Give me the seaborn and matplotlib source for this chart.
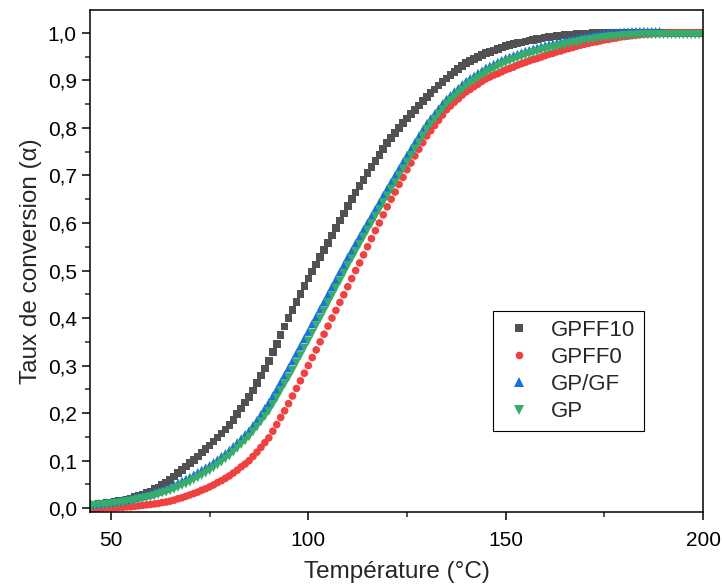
import pandas as pd
import matplotlib
matplotlib.use("Agg")
import matplotlib.pyplot as plt
import seaborn as sns
from matplotlib.ticker import MultipleLocator, FuncFormatter

sns.set_style("ticks")
plt.rcParams["font.family"] = ["Liberation Sans", "DejaVu Sans"]

# === Data (1 °C steps) ===
temperature = list(range(45, 201))

gpff10 = [
    0.007, 0.008, 0.009, 0.010, 0.011, 0.012, 0.013, 0.015, 0.016, 0.018,
    0.020, 0.023, 0.026, 0.029, 0.032, 0.035, 0.040, 0.044, 0.049, 0.054,
    0.060, 0.067, 0.074, 0.081, 0.088, 0.095, 0.102, 0.109, 0.117, 0.124,
    0.132, 0.140, 0.149, 0.157, 0.166, 0.175, 0.186, 0.198, 0.210, 0.222,
    0.234, 0.248, 0.263, 0.279, 0.294, 0.310, 0.328, 0.346, 0.364, 0.382,
    0.400, 0.417, 0.434, 0.450, 0.467, 0.483, 0.498, 0.513, 0.528, 0.543,
    0.558, 0.574, 0.589, 0.605, 0.620, 0.636, 0.650, 0.664, 0.678, 0.691,
    0.705, 0.718, 0.731, 0.743, 0.756, 0.768, 0.779, 0.789, 0.800, 0.810,
    0.820, 0.829, 0.838, 0.847, 0.856, 0.865, 0.873, 0.881, 0.889, 0.897,
    0.904, 0.911, 0.918, 0.924, 0.930, 0.936, 0.941, 0.945, 0.949, 0.953,
    0.957, 0.960, 0.963, 0.966, 0.969, 0.972, 0.974, 0.976, 0.978, 0.980,
    0.982, 0.984, 0.985, 0.987, 0.988, 0.990, 0.991, 0.992, 0.993, 0.994,
    0.995, 0.996, 0.996, 0.997, 0.997, 0.998, 0.998, 0.999, 0.999, 1.000,
    1.000, 1.000, 1.000, 1.000, 1.000, 1.000, 1.000, 1.000, 1.000, 1.000,
    1.000, 1.000, 1.000, 1.000, 1.000, 1.000, 1.000, 1.000, 1.000, 1.000,
    1.000, 1.000, 1.000, 1.000, 1.000, 1.000,
]

gpff0 = [
    0.000, 0.000, 0.000, 0.001, 0.001, 0.001, 0.001, 0.002, 0.002, 0.003,
    0.003, 0.004, 0.005, 0.006, 0.007, 0.008, 0.009, 0.010, 0.012, 0.013,
    0.015, 0.017, 0.020, 0.022, 0.025, 0.028, 0.031, 0.034, 0.038, 0.041,
    0.045, 0.049, 0.054, 0.058, 0.063, 0.068, 0.074, 0.080, 0.087, 0.093,
    0.100, 0.109, 0.118, 0.128, 0.138, 0.148, 0.162, 0.176, 0.191, 0.205,
    0.220, 0.236, 0.252, 0.268, 0.284, 0.300, 0.317, 0.333, 0.350, 0.366,
    0.383, 0.400, 0.416, 0.433, 0.449, 0.466, 0.483, 0.500, 0.516, 0.533,
    0.550, 0.567, 0.584, 0.600, 0.617, 0.634, 0.650, 0.665, 0.681, 0.696,
    0.712, 0.726, 0.741, 0.755, 0.769, 0.783, 0.794, 0.805, 0.816, 0.827,
    0.838, 0.846, 0.854, 0.861, 0.869, 0.876, 0.881, 0.887, 0.892, 0.898,
    0.903, 0.907, 0.911, 0.914, 0.918, 0.922, 0.925, 0.928, 0.932, 0.935,
    0.938, 0.941, 0.944, 0.946, 0.949, 0.952, 0.955, 0.957, 0.960, 0.962,
    0.965, 0.967, 0.969, 0.972, 0.974, 0.976, 0.978, 0.980, 0.981, 0.983,
    0.985, 0.986, 0.988, 0.989, 0.991, 0.992, 0.993, 0.994, 0.995, 0.996,
    0.997, 0.997, 0.998, 0.998, 0.999, 0.999, 1.000, 1.000, 1.000, 1.000,
    1.000, 1.000, 1.000, 1.000, 1.000, 1.000,
]

# GP/GF stops at 189 °C
gpgf = [
    0.008, 0.009, 0.010, 0.011, 0.012, 0.013, 0.014, 0.015, 0.017, 0.018,
    0.020, 0.022, 0.024, 0.026, 0.028, 0.030, 0.033, 0.036, 0.039, 0.042,
    0.045, 0.049, 0.053, 0.057, 0.061, 0.065, 0.070, 0.075, 0.080, 0.085,
    0.090, 0.096, 0.102, 0.109, 0.115, 0.122, 0.130, 0.138, 0.146, 0.155,
    0.163, 0.174, 0.185, 0.197, 0.210, 0.222, 0.236, 0.250, 0.265, 0.280,
    0.295, 0.310, 0.326, 0.341, 0.357, 0.372, 0.388, 0.403, 0.419, 0.434,
    0.450, 0.466, 0.481, 0.497, 0.512, 0.528, 0.542, 0.557, 0.571, 0.586,
    0.600, 0.614, 0.629, 0.643, 0.658, 0.672, 0.686, 0.700, 0.714, 0.728,
    0.742, 0.755, 0.769, 0.782, 0.795, 0.808, 0.819, 0.829, 0.840, 0.850,
    0.860, 0.868, 0.876, 0.883, 0.891, 0.898, 0.904, 0.909, 0.915, 0.920,
    0.926, 0.930, 0.934, 0.938, 0.942, 0.946, 0.949, 0.952, 0.955, 0.958,
    0.961, 0.963, 0.966, 0.968, 0.971, 0.973, 0.975, 0.977, 0.979, 0.981,
    0.983, 0.985, 0.987, 0.988, 0.990, 0.992, 0.993, 0.994, 0.996, 0.997,
    0.998, 0.999, 1.000, 1.000, 1.001, 1.002, 1.002, 1.003, 1.003, 1.003,
    1.003, 1.003, 1.003, 1.003, 1.003,
]

gp = [
    0.005, 0.006, 0.007, 0.007, 0.008, 0.009, 0.010, 0.011, 0.012, 0.014,
    0.015, 0.017, 0.019, 0.020, 0.022, 0.024, 0.026, 0.029, 0.032, 0.034,
    0.037, 0.040, 0.044, 0.048, 0.051, 0.055, 0.060, 0.064, 0.069, 0.074,
    0.079, 0.085, 0.091, 0.097, 0.104, 0.110, 0.118, 0.126, 0.134, 0.142,
    0.150, 0.161, 0.171, 0.182, 0.193, 0.204, 0.218, 0.232, 0.247, 0.261,
    0.275, 0.290, 0.306, 0.321, 0.337, 0.352, 0.368, 0.384, 0.399, 0.415,
    0.431, 0.447, 0.463, 0.478, 0.494, 0.510, 0.525, 0.540, 0.555, 0.570,
    0.585, 0.599, 0.614, 0.628, 0.643, 0.657, 0.671, 0.685, 0.700, 0.714,
    0.728, 0.742, 0.756, 0.769, 0.783, 0.797, 0.808, 0.818, 0.829, 0.839,
    0.850, 0.858, 0.865, 0.873, 0.880, 0.888, 0.894, 0.899, 0.905, 0.910,
    0.916, 0.920, 0.924, 0.929, 0.933, 0.937, 0.940, 0.944, 0.947, 0.950,
    0.953, 0.955, 0.958, 0.960, 0.963, 0.965, 0.967, 0.969, 0.971, 0.973,
    0.975, 0.977, 0.979, 0.980, 0.982, 0.984, 0.985, 0.986, 0.988, 0.989,
    0.990, 0.991, 0.992, 0.992, 0.993, 0.994, 0.994, 0.995, 0.995, 0.996,
    0.996, 0.996, 0.996, 0.996, 0.996, 0.996, 0.996, 0.996, 0.996, 0.996,
    0.996, 0.996, 0.996, 0.996, 0.996, 0.996,
]

series_names = ["GPFF10", "GPFF0", "GP/GF", "GP"]
series_values = [gpff10, gpff0, gpgf, gp]
colors = {"GPFF10": "#515151", "GPFF0": "#F14040", "GP/GF": "#1A6FDF", "GP": "#37AD6B"}
markers = {"GPFF10": "s", "GPFF0": "o", "GP/GF": "^", "GP": "v"}
sizes = {"GPFF10": 30, "GPFF0": 30, "GP/GF": 42, "GP": 42}

# long format table
frames = []
for name, vals in zip(series_names, series_values):
    frames.append(pd.DataFrame({"Temp": temperature[:len(vals)], "Alpha": vals, "Serie": name}))
df = pd.concat(frames, ignore_index=True)

# === Plot ===
fig = plt.figure(figsize=(7.22, 5.88), dpi=100)
ax = fig.add_axes([0.1247, 0.130, 0.849, 0.853])

sns.scatterplot(data=df, x="Temp", y="Alpha", hue="Serie", style="Serie", size="Serie",
                hue_order=series_names, style_order=series_names, size_order=series_names,
                palette=colors, markers=markers, sizes=sizes, linewidth=0, ax=ax)

ax.set_xlim(44.7, 200)
ax.set_ylim(-0.007, 1.048)
ax.xaxis.set_major_locator(MultipleLocator(50))
ax.xaxis.set_minor_locator(MultipleLocator(25))
ax.yaxis.set_major_locator(MultipleLocator(0.1))
ax.yaxis.set_minor_locator(MultipleLocator(0.05))
ax.yaxis.set_major_formatter(FuncFormatter(lambda v, p: f"{v:.1f}".replace(".", ",")))
ax.tick_params(which="major", direction="out", length=6, width=1.1, labelsize=15, colors="black")
ax.tick_params(axis="x", which="major", pad=8)
ax.tick_params(which="minor", direction="out", length=3.5, width=1.1)
for sp in ax.spines.values():
    sp.set_linewidth(1.1)
    sp.set_color("black")

ax.set_xlabel("Température (°C)", fontsize=17.5, labelpad=8)
ax.set_ylabel("Taux de conversion (α)", fontsize=17.5, labelpad=4)

handles, labels = ax.get_legend_handles_labels()
leg = ax.legend(handles, labels, loc="lower left", bbox_to_anchor=(0.657, 0.16),
                fontsize=16, frameon=True, fancybox=False, framealpha=1,
                edgecolor="black", handlelength=1.6, handletextpad=0.6,
                labelspacing=0.28, borderpad=0.4, borderaxespad=0, markerscale=1.0)
leg.get_frame().set_linewidth(0.8)

plt.savefig("out.png", dpi=100)
